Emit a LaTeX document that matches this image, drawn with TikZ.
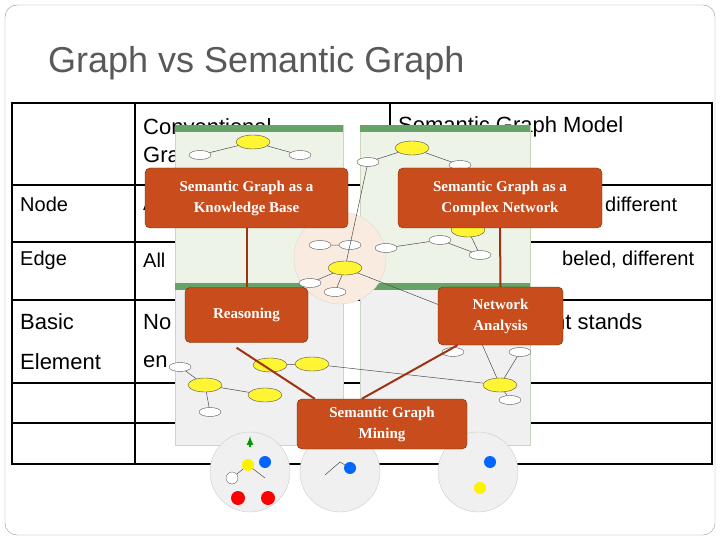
\documentclass[tikz,border=0pt]{standalone}
\usepackage{fontspec}
\setmainfont{Liberation Sans}
\newfontfamily\boxfont{Liberation Serif}
\usetikzlibrary{shapes.geometric,calc}
\begin{document}
\begin{tikzpicture}[x=1pt,y=-1pt,
  cell/.style={anchor=west,inner sep=0pt,font=\fontsize{22}{26}\selectfont},
  small/.style={anchor=west,inner sep=0pt,font=\fontsize{20}{24}\selectfont},
  obox/.style={draw=orange!40!black,fill={rgb,255:red,200;green,76;blue,28},rounded corners=5pt,text=white,align=center,font=\boxfont\bfseries\fontsize{15}{21}\selectfont,inner sep=0pt},
  conn/.style={draw={rgb,255:red,160;green,50;blue,20},line width=2pt},
  panel/.style={fill={rgb,255:red,238;green,243;blue,232},draw={rgb,255:red,200;green,215;blue,190}},
  panelb/.style={fill={rgb,255:red,240;green,240;blue,240},draw={rgb,255:red,200;green,215;blue,190}},
  wn/.style={ellipse,draw=black!70,fill=white,minimum width=22pt,minimum height=9pt,inner sep=0pt},
  yn/.style={ellipse,draw=black!70,fill=yellow!80,minimum width=34pt,minimum height=14pt,inner sep=0pt},
  gl/.style={draw=black!70,line width=0.5pt}]
\useasboundingbox (0,0) rectangle (720,540);
\fill[white] (0,0) rectangle (720,540);
\draw[black!40,rounded corners=12pt] (5,5) rectangle (715,535);
\node[anchor=west,inner sep=0pt,text={rgb,255:red,89;green,89;blue,89},font=\fontsize{36}{40}\selectfont] (title) at (48,63) {Graph vs Semantic Graph};
% table
\draw[line width=1.5pt] (12,103) rectangle (712,464);
\foreach \y in {185,242,300,383,423} \draw[line width=1.2pt] (12,\y) -- (712,\y);
\draw[line width=1.2pt] (135,103) -- (135,464);
\draw[line width=1.2pt] (390,103) -- (390,185);
\node[cell] (h1) at (143,127) {Conventional};
\node[cell] (h1b) at (143,157) {Graph};
\node[cell] (h2) at (398,127) {Semantic Graph Model};
\node[small] (r1) at (20,204) {Node};
\node[small] (r2) at (20,260) {Edge};
\node[cell] (r3) at (20,322) {Basic};
\node[cell] (r3b) at (20,362) {Element};
\node[small] (c1) at (143,204) {A};
\node[small] (c2) at (143,260) {All};
\node[cell] (c3) at (143,322) {No};
\node[cell] (c3b) at (143,362) {en};
\node[small] (d1) at (605,204) {different};
\node[small] (d2) at (562,260) {beled, different};
\node[cell] (d3) at (553,322) {nt stands};
% image panels
\draw[panel] (175,125) rectangle (343,285);
\draw[panel] (360,125) rectangle (530,285);
\draw[panelb] (175,283) rectangle (343,445);
\draw[panelb] (360,283) rectangle (530,445);
\fill[green!40!black!60] (175,125) rectangle (343,132);
\fill[green!40!black!60] (360,125) rectangle (530,132);
\fill[green!40!black!60] (175,283) rectangle (343,290);
\fill[green!40!black!60] (360,283) rectangle (530,290);
\draw[fill={rgb,255:red,250;green,235;blue,225},draw=black!15] (340,258) circle (46);
% graph nodes
\node[yn] (p1) at (253,142) {};
\node[wn] (p2) at (200,155) {};
\node[wn] (p3) at (300,155) {};
\node[yn] (p4) at (412,148) {};
\node[wn] (p5) at (368,162) {};
\node[wn] (p6) at (460,165) {};
\node[yn] (p7) at (468,230) {};
\node[wn] (p8) at (320,245) {};
\node[wn] (p9) at (350,245) {};
\node[yn] (al) at (345,268) {};
\node[wn] (p10) at (310,283) {};
\node[wn] (p11) at (335,292) {};
\node[wn] (p12) at (386,248) {};
\node[wn] (p13) at (440,240) {};
\node[wn] (p14) at (480,255) {};
\node[yn] (b1) at (270,365) {};
\node[yn] (b2) at (312,364) {};
\node[yn] (b3) at (205,385) {};
\node[yn] (b4) at (265,395) {};
\node[wn] (b5) at (180,367) {};
\node[wn] (b6) at (210,412) {};
\node[yn] (b7) at (500,385) {};
\node[yn] (b8) at (470,317) {};
\node[wn] (b9) at (453,352) {};
\node[wn] (b10) at (520,352) {};
\node[wn] (b11) at (510,400) {};
\draw[gl] (p1)--(p2) (p1)--(p3) (p4)--(p5) (p4)--(p6) (p8)--(p9) (al)--(p10) (al)--(p11) (p12)--(p13) (p13)--(p14)
  (b1)--(b2) (b3)--(b4) (b5)--(b3) (b3)--(b6) (b8)--(b7) (b7)--(b10) (b7)--(b11) (b8)--(al) (b7)--(b2) (p7)--(p14) (p5)--(al);
% bottom circles
\foreach \cx in {250,340,478}{
  \draw[fill=black!6,draw=black!20] (\cx,472) circle (40);
}
\draw[gl] (232,478)--(248,465)--(265,478);
\fill[blue!60!cyan] (265,462) circle (6);
\draw[fill=white,draw=black!60] (232,478) circle (6);
\fill[yellow] (248,465) circle (6);
\fill[red] (238,498) circle (7);
\fill[red] (268,498) circle (7);
\draw[gl] (325,475)--(340,462)--(350,468);
\fill[blue!60!cyan] (350,468) circle (6);
\fill[blue!60!cyan] (490,462) circle (6);
\fill[yellow] (480,488) circle (6);
\draw[green!60!black,-latex,line width=2pt] (250,447) -- (250,436);
% orange boxes and connectors
\node[obox,minimum width=203pt,minimum height=60pt] (kb) at (246.5,198) {Semantic Graph as a\\Knowledge Base};
\node[obox,minimum width=204pt,minimum height=60pt] (cn) at (500,198) {Semantic Graph as a\\Complex Network};
\node[obox,minimum width=123pt,minimum height=55pt] (rs) at (246.5,315) {Reasoning};
\node[obox,minimum width=125pt,minimum height=58pt] (na) at (500.5,316) {Network\\Analysis};
\node[obox,minimum width=170pt,minimum height=50pt] (mn) at (382,424) {Semantic Graph\\Mining};
\draw[conn] (kb.south) -- (rs.north);
\draw[conn] (cn.south) -- (na.north);
\draw[conn] ($(rs.south)+(-10,5)$) -- ($(mn.north west)+(18,0)$);
\draw[conn] ($(na.south)+(-43,0)$) -- ($(mn.north west)+(65,0)$);
\end{tikzpicture}
\end{document}
